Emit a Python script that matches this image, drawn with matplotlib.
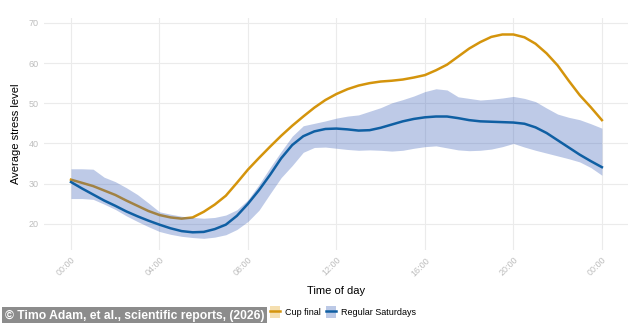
import numpy as np
import matplotlib
matplotlib.use("Agg")
import matplotlib.pyplot as plt
from matplotlib.patches import Patch
from matplotlib.lines import Line2D

# hours after midnight (0 = 00:00 Saturday, 24 = 00:00 next day)
hours = [0, 0.5, 1, 1.5, 2, 2.5, 3, 3.5, 4, 4.5, 5, 5.5, 6, 6.5, 7, 7.5,
         8, 8.5, 9, 9.5, 10, 10.5, 11, 11.5, 12, 12.5, 13, 13.5, 14, 14.5,
         15, 15.5, 16, 16.5, 17, 17.5, 18, 18.5, 19, 19.5, 20, 20.5, 21,
         21.5, 22, 22.5, 23, 23.5, 24]

# cup final day
cup_final = [31.0, 30.2, 29.4, 28.3, 27.2, 25.8, 24.5, 23.2, 22.2, 21.6,
             21.3, 21.6, 23.0, 24.8, 27.0, 30.2, 33.5, 36.4, 39.2, 41.9,
             44.4, 46.7, 48.9, 50.8, 52.3, 53.5, 54.4, 55.0, 55.4, 55.6,
             55.9, 56.4, 57.0, 58.2, 59.6, 61.6, 63.6, 65.2, 66.5, 67.1,
             67.1, 66.4, 64.8, 62.4, 59.4, 55.6, 52.0, 49.0, 45.8]

# regular saturdays (mean + band)
regular = [30.4, 28.8, 27.3, 25.8, 24.5, 23.1, 21.9, 20.8, 19.8, 18.9,
           18.2, 17.9, 18.0, 18.7, 19.8, 22.0, 25.0, 28.4, 32.2, 36.3,
           39.6, 41.8, 43.0, 43.6, 43.7, 43.5, 43.2, 43.3, 43.9, 44.7,
           45.5, 46.1, 46.5, 46.7, 46.7, 46.3, 45.8, 45.5, 45.4, 45.3,
           45.2, 44.9, 44.0, 42.6, 40.8, 39.0, 37.2, 35.6, 34.1]

regular_upper = [33.7, 33.7, 33.6, 31.6, 30.5, 29.0, 27.3, 25.2, 23.0, 22.4,
                 21.9, 21.6, 21.4, 21.6, 22.2, 23.5, 26.0, 29.8, 34.0, 38.0,
                 41.8, 44.4, 45.0, 45.6, 46.3, 46.8, 47.1, 48.0, 48.9, 50.1,
                 50.9, 51.8, 52.9, 53.6, 53.3, 51.6, 51.2, 50.8, 51.0, 51.3,
                 51.7, 51.2, 50.4, 48.8, 47.3, 46.5, 45.9, 44.9, 43.8]

regular_lower = [26.3, 26.3, 26.1, 24.9, 23.6, 22.0, 20.6, 19.3, 18.1, 17.4,
                 16.9, 16.6, 16.4, 16.7, 17.3, 18.6, 20.6, 23.4, 27.5, 31.5,
                 34.5, 37.8, 39.0, 39.1, 38.8, 38.5, 38.3, 38.4, 38.3, 38.1,
                 38.3, 38.8, 39.2, 39.4, 38.9, 38.4, 38.2, 38.3, 38.6, 39.2,
                 40.0, 39.1, 38.3, 37.6, 36.9, 36.2, 35.4, 34.0, 32.1]

tick_hours = [0, 4, 8, 12, 16, 20, 24]
tick_labels = ["00:00", "04:00", "08:00", "12:00", "16:00", "20:00", "00:00"]
y_ticks = [20, 30, 40, 50, 60, 70]

orange = "#D4940C"
blue = "#0F5FA3"
band = "#3A5FB8"

plt.rcParams["font.family"] = ["Liberation Sans", "DejaVu Sans"]

fig = plt.figure(figsize=(6.34, 3.23), dpi=100)
ax = fig.add_axes([44 / 634, 1 - 250 / 323, 584 / 634, 232 / 323])

ax.plot(hours, cup_final, color=orange, lw=1.8, zorder=2,
        solid_joinstyle="round")
ax.fill_between(hours, regular_lower, regular_upper, color=band, alpha=0.33,
                lw=0, zorder=3)
ax.plot(hours, regular, color=blue, lw=1.8, zorder=4,
        solid_joinstyle="round")

ax.set_xlim(-1.22, 25.18)
ax.set_ylim(13.5, 71.2)
ax.set_xticks(tick_hours)
ax.set_xticklabels(tick_labels, rotation=45, ha="right", rotation_mode="anchor")
ax.set_yticks(y_ticks)

ax.grid(True, color="#EBEBEB", lw=0.8, zorder=0)
ax.set_axisbelow(True)
for s in ax.spines.values():
    s.set_visible(False)
ax.tick_params(length=0, labelsize=6.5, labelcolor="#BDBDBD")
ax.tick_params(axis="y", pad=4)
ax.tick_params(axis="x", pad=4)

ax.set_xlabel("Time of day", fontsize=8, labelpad=6)
ax.set_ylabel("Average stress level", fontsize=8, labelpad=5)

# legend
h1 = (Patch(facecolor="#F5DFB0", edgecolor="none"),
      Line2D([], [], color=orange, lw=1.8))
h2 = (Patch(facecolor="#BCC9E6", edgecolor="none"),
      Line2D([], [], color=blue, lw=1.8))
fig.legend([h1, h2], ["Cup final", "Regular Saturdays"], ncol=2,
           loc="center", bbox_to_anchor=(343 / 634, 1 - 312 / 323),
           frameon=False, fontsize=6.5, handlelength=1.1, handleheight=1.5,
           handletextpad=0.5, columnspacing=0.6)

# watermark
fig.text(5 / 634, 1 - 315.5 / 323, "\u00a9 Timo Adam, et al., scientific reports, (2026)",
         fontweight="bold", fontsize=8.7, color="white", va="center", ha="left",
         bbox=dict(boxstyle="square,pad=0.22", facecolor="#8C8C8C",
                   edgecolor="none"))

fig.savefig("out.png", dpi=100)
